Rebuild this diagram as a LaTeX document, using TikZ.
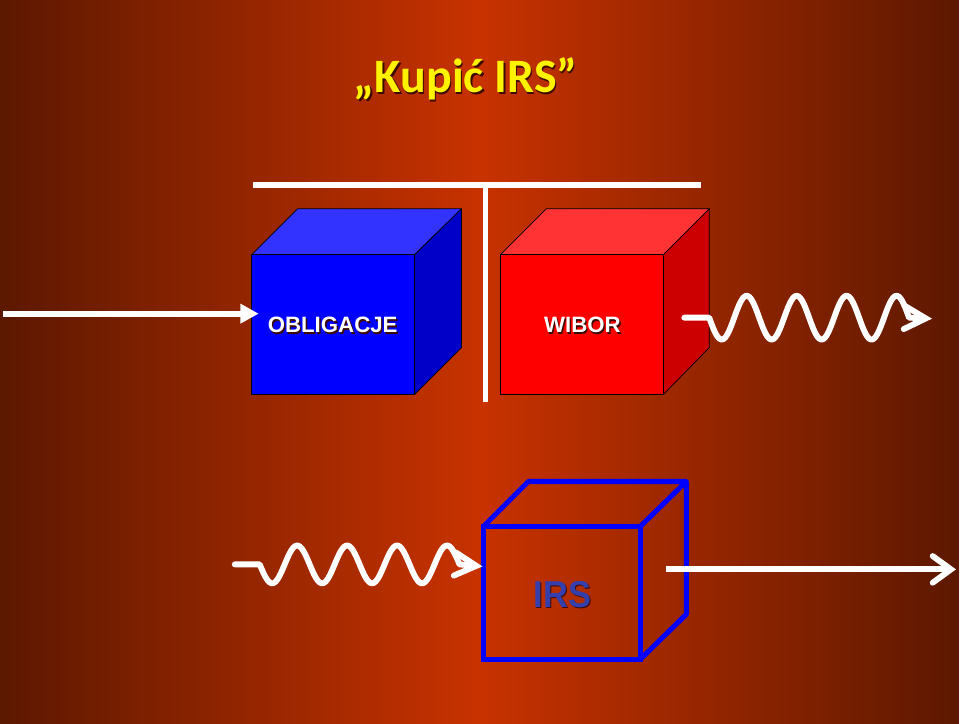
\documentclass[tikz,border=0pt]{standalone}
\usepackage{fontspec}
\setsansfont{Liberation Sans}
\newfontfamily\titlefont{Carlito}
\usetikzlibrary{arrows.meta}

\definecolor{bgedge}{RGB}{92,24,0}
\definecolor{bgmid}{RGB}{200,50,0}
\definecolor{shadowcol}{RGB}{60,10,0}
\definecolor{irsblue}{RGB}{52,62,172}

% text with a dark drop shadow
\newcommand{\shadowed}[1]{\rlap{\kern1.2pt\raisebox{-1.2pt}{\color{shadowcol}#1}}#1}

\tikzset{
  flow/.style={white, line width=5pt},
  wave/.style={white, line width=5pt, line cap=round, line join=round},
  cubeline/.style={black, line width=0.6pt, line join=round},
  irsline/.style={blue, line width=4.3pt},
  boxlabel/.style={font=\sffamily\bfseries\fontsize{19}{19}\selectfont},
}

\begin{document}
\begin{tikzpicture}[x=0.03cm, y=-0.03cm]
  % background
  \shade[left color=bgedge, right color=bgedge, middle color=bgmid] (0,0) rectangle (960,724);

  % title
  \node[yellow, font=\titlefont\bfseries\fontsize{41}{41}\selectfont] (title) at (466,80) {\shadowed{„Kupić IRS”}};

  % T separator
  \coordinate (barleft) at (253,185);
  \coordinate (barright) at (702,185);
  \coordinate (stemtop) at (486,185);
  \coordinate (stembottom) at (486,402);
  \draw[flow] (barleft) -- (barright);
  \draw[flow] (stemtop) -- (stembottom);

  % OBLIGACJE cube
  \filldraw[cubeline, fill={rgb,255:red,51;green,51;blue,255}] (252,255) -- (298,209) -- (462,209) -- (415,255) -- cycle;
  \filldraw[cubeline, fill={rgb,255:red,0;green,0;blue,200}] (415,255) -- (462,209) -- (462,348) -- (415,395) -- cycle;
  \filldraw[cubeline, fill=blue] (252,255) rectangle (415,395);
  \node[boxlabel, white] (bond) at (333,326) {\shadowed{OBLIGACJE}};

  % WIBOR cube
  \filldraw[cubeline, fill={rgb,255:red,255;green,51;blue,51}] (501,255) -- (547,209) -- (710,209) -- (664,255) -- cycle;
  \filldraw[cubeline, fill={rgb,255:red,204;green,0;blue,0}] (664,255) -- (710,209) -- (710,348) -- (664,395) -- cycle;
  \filldraw[cubeline, fill=red] (501,255) rectangle (664,395);
  \node[boxlabel, white] (wibor) at (583,326) {\shadowed{WIBOR}};

  % IRS cube
  \draw[irsline] (484,527) rectangle (641,660);
  \draw[irsline, line join=round] (484,527) -- (529,482) -- (687,482) -- (641,527);
  \draw[irsline, line join=round] (687,482) -- (687,615) -- (641,660);
  \node[irsblue, font=\sffamily\bfseries\fontsize{32}{32}\selectfont, xscale=0.92] (irs) at (563,596) {\shadowed{IRS}};

  % arrows
  \coordinate (bondin) at (3,314);
  \coordinate (bondtip) at (259,314);
  \draw[flow, -{Triangle[length=0.55cm, width=0.56cm]}] (bondin) -- (bondtip);

  \coordinate (wiborout) at (685,318);
  \coordinate (wiborend) at (933,319);
  \draw[wave, -{Straight Barb[length=0.65cm, width=0.7cm, line cap=round]}] (wiborout) -- (710,318)
    -- plot[domain=0:200, samples=101, smooth] ({710+\x}, {318+22*sin(7.2*\x)}) -- (wiborend);

  \coordinate (irsin) at (235,565);
  \coordinate (irstip) at (483,567);
  \draw[wave, -{Straight Barb[length=0.65cm, width=0.7cm, line cap=round]}] (irsin) -- (260,565)
    -- plot[domain=0:200, samples=101, smooth] ({260+\x}, {565+19*sin(7.2*\x)}) -- (irstip);

  \coordinate (irsout) at (667,570);
  \coordinate (irsend) at (957,570);
  \draw[flow, -{Straight Barb[length=0.55cm, width=0.8cm, line cap=round]}] (irsout) -- (irsend);
\end{tikzpicture}
\end{document}
